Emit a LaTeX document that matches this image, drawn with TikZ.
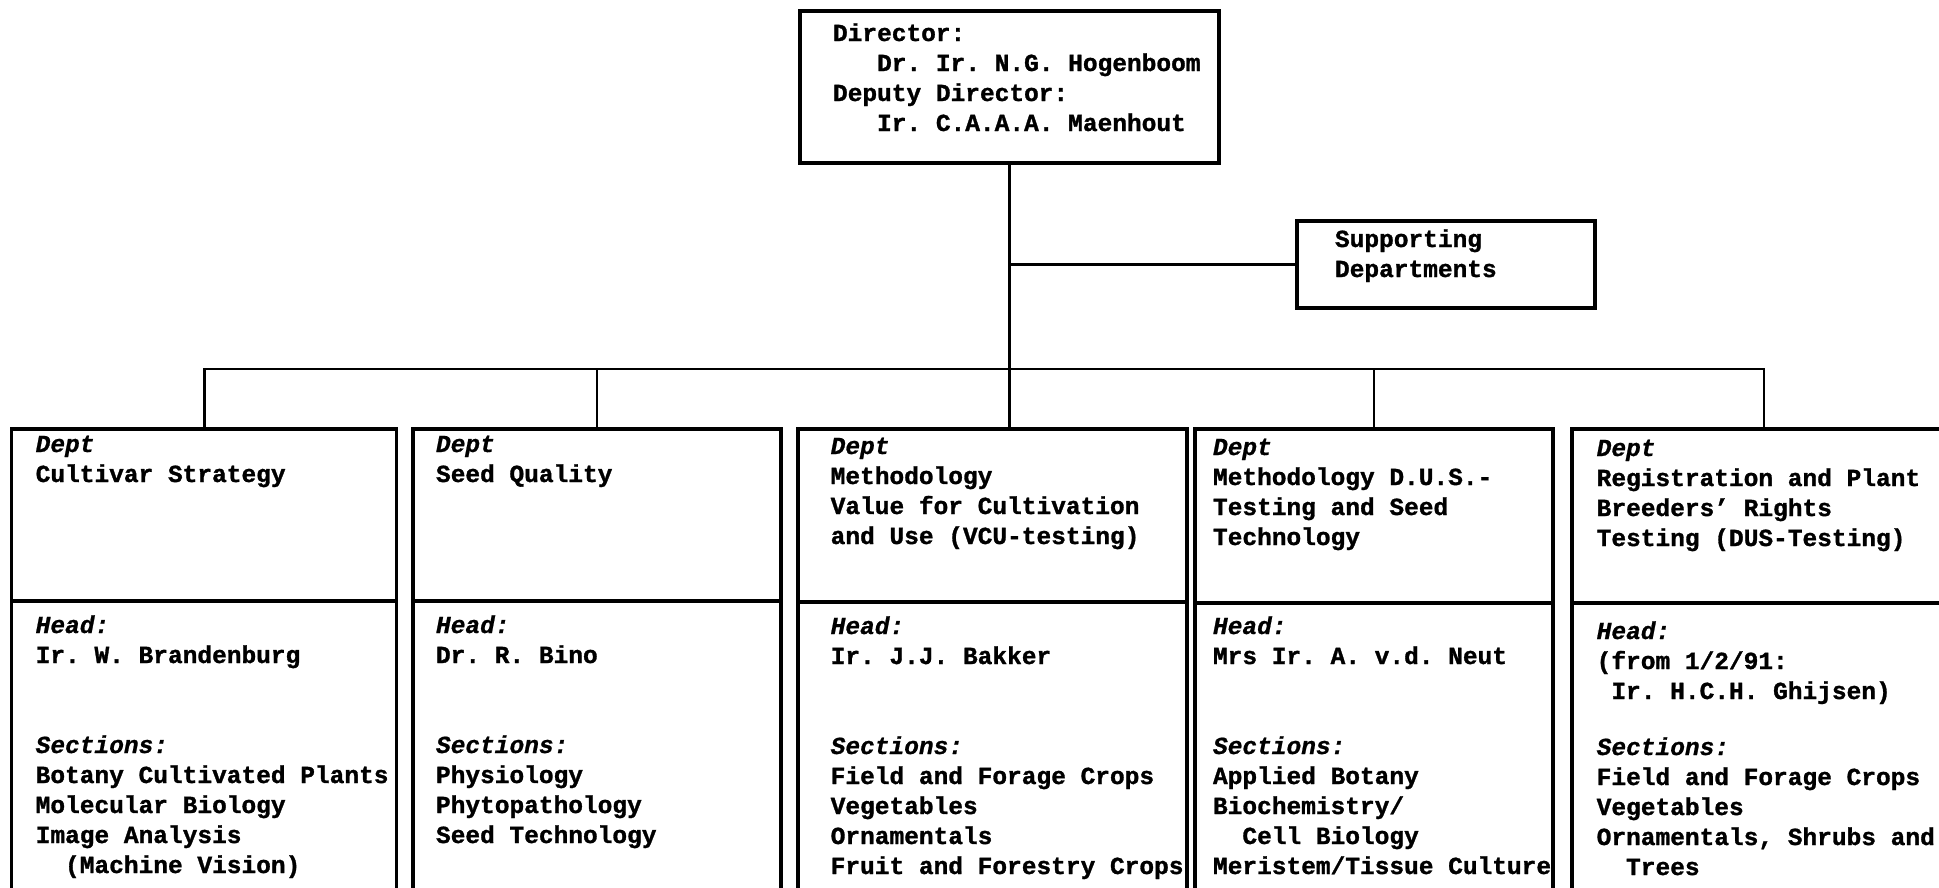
\documentclass[tikz,border=0pt]{standalone}
\usepackage{fontspec}
\newfontfamily\typer{Liberation Mono}[BoldFeatures={FakeBold=1.2},BoldItalicFeatures={FakeBold=0.8}]
\newcommand\typeset{\typer\bfseries\fontsize{24.5}{30}\selectfont\frenchspacing}
\newcommand\hd[1]{\textit{#1}}
% fixed first-line height, so a text node's top sits 22pt above its first baseline
\newcommand\fl{\rule{0pt}{22pt}}
% indent by a number of character cells
\newcommand\ind[1]{\hspace*{#1\fontcharwd\font`\M}}
\begin{document}
\begin{tikzpicture}[x=1pt,y=-1pt,
  box/.style={draw, line width=3.3pt, inner sep=0pt, outer sep=0pt},
  link/.style={line width=2.7pt},
  txt/.style={anchor=north west, inner sep=0pt, outer sep=0pt, align=left, font=\typeset}]
\useasboundingbox (0,0) rectangle (1939,887);
\fill[white] (0,0) rectangle (1939,887);
\clip (0,0) rectangle (1939,887);

% management and supporting departments
\node[box, minimum width=419pt, minimum height=152pt] (dir) at (1009.5,87) {};
\node[box, minimum width=298pt, minimum height=87pt] (sup) at (1446,264.5) {};

% departments: upper part (name) and lower part (head, sections)
\node[box, minimum width=385pt, minimum height=172pt] (d1) at (204.2,515) {};
\node[box, minimum width=385pt, minimum height=304pt, anchor=north] (h1) at (d1.south) {};
\node[box, minimum width=368pt, minimum height=172pt] (d2) at (596.9,515) {};
\node[box, minimum width=368pt, minimum height=304pt, anchor=north] (h2) at (d2.south) {};
\node[box, minimum width=389pt, minimum height=173pt] (d3) at (992.5,515.5) {};
\node[box, minimum width=389pt, minimum height=304pt, anchor=north] (h3) at (d3.south) {};
\node[box, minimum width=358pt, minimum height=174pt] (d4) at (1373.9,516) {};
\node[box, minimum width=358pt, minimum height=304pt, anchor=north] (h4) at (d4.south) {};
\node[box, minimum width=384pt, minimum height=174pt] (d5) at (1764,516) {};
\node[box, minimum width=384pt, minimum height=304pt, anchor=north] (h5) at (d5.south) {};

% connectors
\coordinate (bus) at (1009.5,369);
\draw[link] (dir.south) -- (dir.south |- d3.north);
\draw[link] (d1.north) -- (d1.north |- bus) -- (d5.north |- bus) -- (d5.north);
\draw[link] (d2.north) -- (d2.north |- bus);
\draw[link] (d4.north) -- (d4.north |- bus);
\draw[link] (sup.west) -- (sup.west -| dir.south);

% texts
\node[txt] (tdir) at (833,19) {\fl Director:\\\ind{3}Dr. Ir. N.G. Hogenboom\\Deputy Director:\\\ind{3}Ir. C.A.A.A. Maenhout};
\node[txt] (tsup) at (1335,225) {\fl Supporting\\Departments};

\node[txt] (u1) at (35.7,430) {\fl\hd{Dept}\\Cultivar Strategy};
\node[txt] (l1) at (35.7,611) {\fl\hd{Head:}\\Ir. W. Brandenburg\\[60pt]\hd{Sections:}\\Botany Cultivated Plants\\Molecular Biology\\Image Analysis\\\ind{2}(Machine Vision)};

\node[txt] (u2) at (436,430) {\fl\hd{Dept}\\Seed Quality};
\node[txt] (l2) at (436,611) {\fl\hd{Head:}\\Dr. R. Bino\\[60pt]\hd{Sections:}\\Physiology\\Phytopathology\\Seed Technology};

\node[txt] (u3) at (830.7,432) {\fl\hd{Dept}\\Methodology\\Value for Cultivation\\and Use (VCU-testing)};
\node[txt] (l3) at (830.7,612) {\fl\hd{Head:}\\Ir. J.J. Bakker\\[60pt]\hd{Sections:}\\Field and Forage Crops\\Vegetables\\Ornamentals\\Fruit and Forestry Crops};

\node[txt] (u4) at (1213,433) {\fl\hd{Dept}\\Methodology D.U.S.-\\Testing and Seed\\Technology};
\node[txt] (l4) at (1213,612) {\fl\hd{Head:}\\Mrs Ir. A. v.d. Neut\\[60pt]\hd{Sections:}\\Applied Botany\\Biochemistry/\\\ind{2}Cell Biology\\Meristem/Tissue Culture};

\node[txt] (u5) at (1596.7,434) {\fl\hd{Dept}\\Registration and Plant\\Breeders’ Rights\\Testing (DUS-Testing)};
\node[txt] (l5) at (1596.7,617) {\fl\hd{Head:}\\(from 1/2/91:\\\ind{1}Ir. H.C.H. Ghijsen)\\[26pt]\hd{Sections:}\\Field and Forage Crops\\Vegetables\\Ornamentals, Shrubs and\\\ind{2}Trees};
\end{tikzpicture}
\end{document}
